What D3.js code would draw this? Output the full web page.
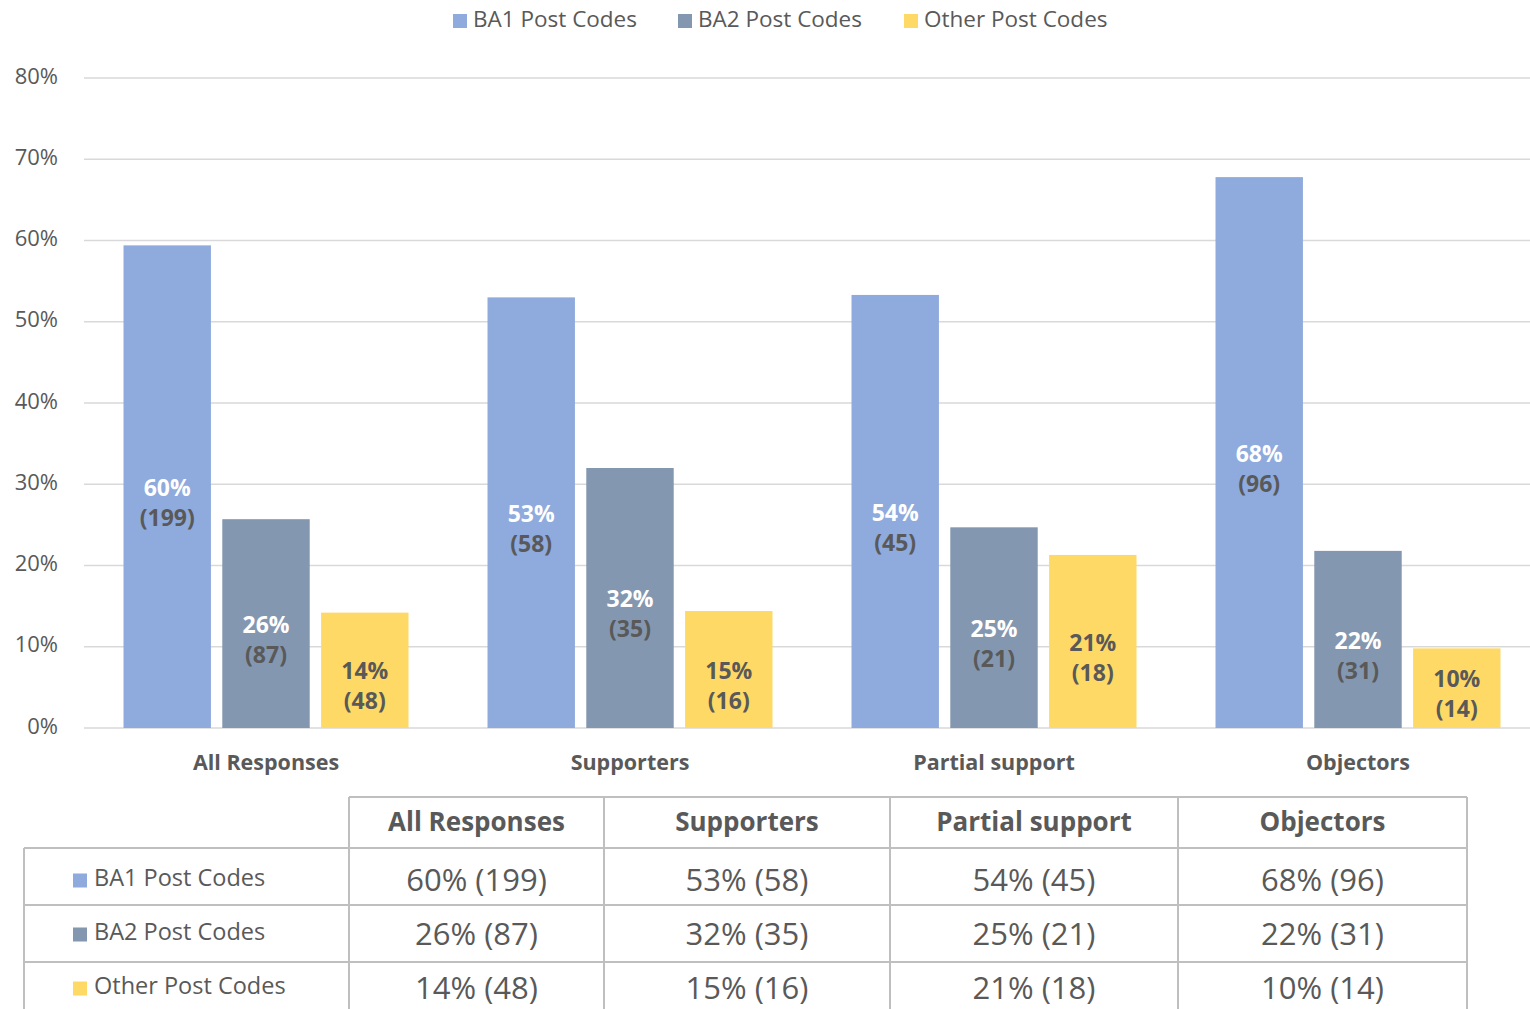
<!DOCTYPE html>
<meta charset='utf-8'>
<style type="text/css">
	body { margin: 0; background: #fff; }
	text { font-family: "Open Sans", "Segoe UI", sans-serif; }
</style>
<body>
<div class="chart"></div>
<script src='https://cdn.jsdelivr.net/npm/d3@7/dist/d3.min.js'></script>
<script>

// data
var categories = ['All Responses', 'Supporters', 'Partial support', 'Objectors'];
var series = ['BA1 Post Codes', 'BA2 Post Codes', 'Other Post Codes'];
var ba1Values = [59.4, 53.0, 53.3, 67.8];
var ba2Values = [25.7, 32.0, 24.7, 21.8];
var otherValues = [14.2, 14.4, 21.3, 9.8];
var ba1Labels = ['60%', '53%', '54%', '68%'];
var ba2Labels = ['26%', '32%', '25%', '22%'];
var otherLabels = ['14%', '15%', '21%', '10%'];
var ba1Counts = ['(199)', '(58)', '(45)', '(96)'];
var ba2Counts = ['(87)', '(35)', '(21)', '(31)'];
var otherCounts = ['(48)', '(16)', '(18)', '(14)'];
var yTicks = [0, 10, 20, 30, 40, 50, 60, 70, 80];

var colors = ['#8faadc', '#8497b0', '#ffd966'];
var values = [ba1Values, ba2Values, otherValues];
var pctLabels = [ba1Labels, ba2Labels, otherLabels];
var countLabels = [ba1Counts, ba2Counts, otherCounts];

var width = 1530, height = 1009;

var svg = d3.select('.chart')
	.append('svg')
	.attr('width', width)
	.attr('height', height);

var x0 = d3.scaleBand()
	.domain(categories)
	.range([84, 1540])
	.paddingInner(0)
	.paddingOuter(0);

var x1 = d3.scaleBand()
	.domain(series)
	.range([0, x0.bandwidth()])
	.paddingInner(0.115)
	.paddingOuter(0.4);

var y = d3.scaleLinear()
	.domain([0, 80])
	.range([728, 78]);

// gridlines
svg.append('g')
	.selectAll('line')
	.data(yTicks)
	.enter().append('line')
	.attr('x1', 84)
	.attr('x2', 1540)
	.attr('y1', function(d){ return y(d); })
	.attr('y2', function(d){ return y(d); })
	.attr('stroke', '#d9d9d9')
	.attr('stroke-width', 1.5);

// y axis labels
var yAxis = d3.axisLeft(y)
	.tickValues(yTicks)
	.tickSize(0)
	.tickPadding(0)
	.tickFormat(function(d){ return d + '%'; });

svg.append('g')
	.attr('transform', 'translate(58,-2)')
	.call(yAxis)
	.call(function(g){ g.select('.domain').remove(); })
	.selectAll('text')
	.attr('font-family', '"Open Sans", sans-serif')
	.attr('font-size', 22)
	.attr('fill', '#595959');

// bars
series.forEach(function(s, si){
	var g = svg.append('g').attr('class', 'series');
	g.selectAll('rect')
		.data(values[si])
		.enter().append('rect')
		.attr('x', function(d, i){ return x0(categories[i]) + x1(s); })
		.attr('y', function(d){ return y(d); })
		.attr('width', x1.bandwidth())
		.attr('height', function(d){ return y(0) - y(d); })
		.attr('fill', colors[si]);

	function countY(d){
		return Math.min((y(d) + y(0)) / 2 + 33, y(0) - 17);
	}

	g.selectAll('text.pct')
		.data(values[si])
		.enter().append('text')
		.attr('class', 'pct')
		.attr('x', function(d, i){ return x0(categories[i]) + x1(s) + x1.bandwidth() / 2; })
		.attr('y', function(d){ return countY(d) - 30; })
		.attr('text-anchor', 'middle')
		.attr('dominant-baseline', 'middle')
		.attr('font-size', 23)
		.attr('font-weight', 'bold')
		.attr('fill', si < 2 ? '#ffffff' : '#595959')
		.text(function(d, i){ return pctLabels[si][i]; });

	g.selectAll('text.cnt')
		.data(values[si])
		.enter().append('text')
		.attr('class', 'cnt')
		.attr('x', function(d, i){ return x0(categories[i]) + x1(s) + x1.bandwidth() / 2; })
		.attr('y', countY)
		.attr('text-anchor', 'middle')
		.attr('dominant-baseline', 'middle')
		.attr('font-size', 23)
		.attr('font-weight', 'bold')
		.attr('fill', '#595959')
		.text(function(d, i){ return countLabels[si][i]; });
});

// category labels
svg.append('g')
	.selectAll('text')
	.data(categories)
	.enter().append('text')
	.attr('x', function(d){ return x0(d) + x0.bandwidth() / 2; })
	.attr('y', 764)
	.attr('text-anchor', 'middle')
	.attr('dominant-baseline', 'middle')
	.attr('font-size', 21.5)
	.attr('font-weight', 'bold')
	.attr('fill', '#595959')
	.text(function(d){ return d; });

// legend
var legendX = [453, 678, 904];
var legend = svg.append('g')
	.selectAll('g')
	.data(series)
	.enter().append('g')
	.attr('transform', function(d, i){ return 'translate(' + legendX[i] + ',0)'; });

legend.append('rect')
	.attr('x', 0).attr('y', 14)
	.attr('width', 14).attr('height', 14)
	.attr('fill', function(d, i){ return colors[i]; });

legend.append('text')
	.attr('x', 20).attr('y', 21)
	.attr('dominant-baseline', 'middle')
	.attr('font-size', 22.5)
	.attr('fill', '#595959')
	.text(function(d){ return d; });

// data table
var colEdges = [349, 604, 890, 1178, 1467];
var headTop = 797, headBottom = 848, rowH = 57;
var tbl = svg.append('g').attr('class', 'table');
var border = '#bfbfbf';

// horizontal lines
tbl.append('line')
	.attr('x1', colEdges[0]).attr('x2', colEdges[4])
	.attr('y1', headTop).attr('y2', headTop)
	.attr('stroke', border).attr('stroke-width', 2);

tbl.selectAll('line.h')
	.data(d3.range(series.length))
	.enter().append('line')
	.attr('class', 'h')
	.attr('x1', 24).attr('x2', colEdges[4])
	.attr('y1', function(d){ return headBottom + d * rowH; })
	.attr('y2', function(d){ return headBottom + d * rowH; })
	.attr('stroke', border).attr('stroke-width', 2);

// vertical lines
tbl.selectAll('line.v')
	.data(colEdges)
	.enter().append('line')
	.attr('class', 'v')
	.attr('x1', function(d){ return d; })
	.attr('x2', function(d){ return d; })
	.attr('y1', headTop).attr('y2', height)
	.attr('stroke', border).attr('stroke-width', 2);

tbl.append('line')
	.attr('x1', 24).attr('x2', 24)
	.attr('y1', headBottom).attr('y2', height)
	.attr('stroke', border).attr('stroke-width', 2);

// header
tbl.selectAll('text.head')
	.data(categories)
	.enter().append('text')
	.attr('class', 'head')
	.attr('x', function(d, i){ return (colEdges[i] + colEdges[i + 1]) / 2; })
	.attr('y', (headTop + headBottom) / 2 + 2)
	.attr('text-anchor', 'middle')
	.attr('dominant-baseline', 'middle')
	.attr('font-size', 26)
	.attr('font-weight', 'bold')
	.attr('fill', '#595959')
	.text(function(d){ return d; });

// rows
series.forEach(function(s, si){
	var cy = headBottom + si * rowH + rowH / 2 + 3 - si * 3;
	tbl.append('rect')
		.attr('x', 73).attr('y', cy - 6)
		.attr('width', 14).attr('height', 14)
		.attr('fill', colors[si]);
	tbl.append('text')
		.attr('x', 94).attr('y', cy)
		.attr('dominant-baseline', 'middle')
		.attr('font-size', 23.5)
		.attr('fill', '#595959')
		.text(s);
	tbl.selectAll('text.r' + si)
		.data(categories)
		.enter().append('text')
		.attr('class', 'r' + si)
		.attr('x', function(d, i){ return (colEdges[i] + colEdges[i + 1]) / 2; })
		.attr('y', cy + 3)
		.attr('text-anchor', 'middle')
		.attr('dominant-baseline', 'middle')
		.attr('font-size', 31)
		.attr('fill', '#595959')
		.text(function(d, i){ return pctLabels[si][i] + ' ' + countLabels[si][i]; });
});

</script>
</body>
